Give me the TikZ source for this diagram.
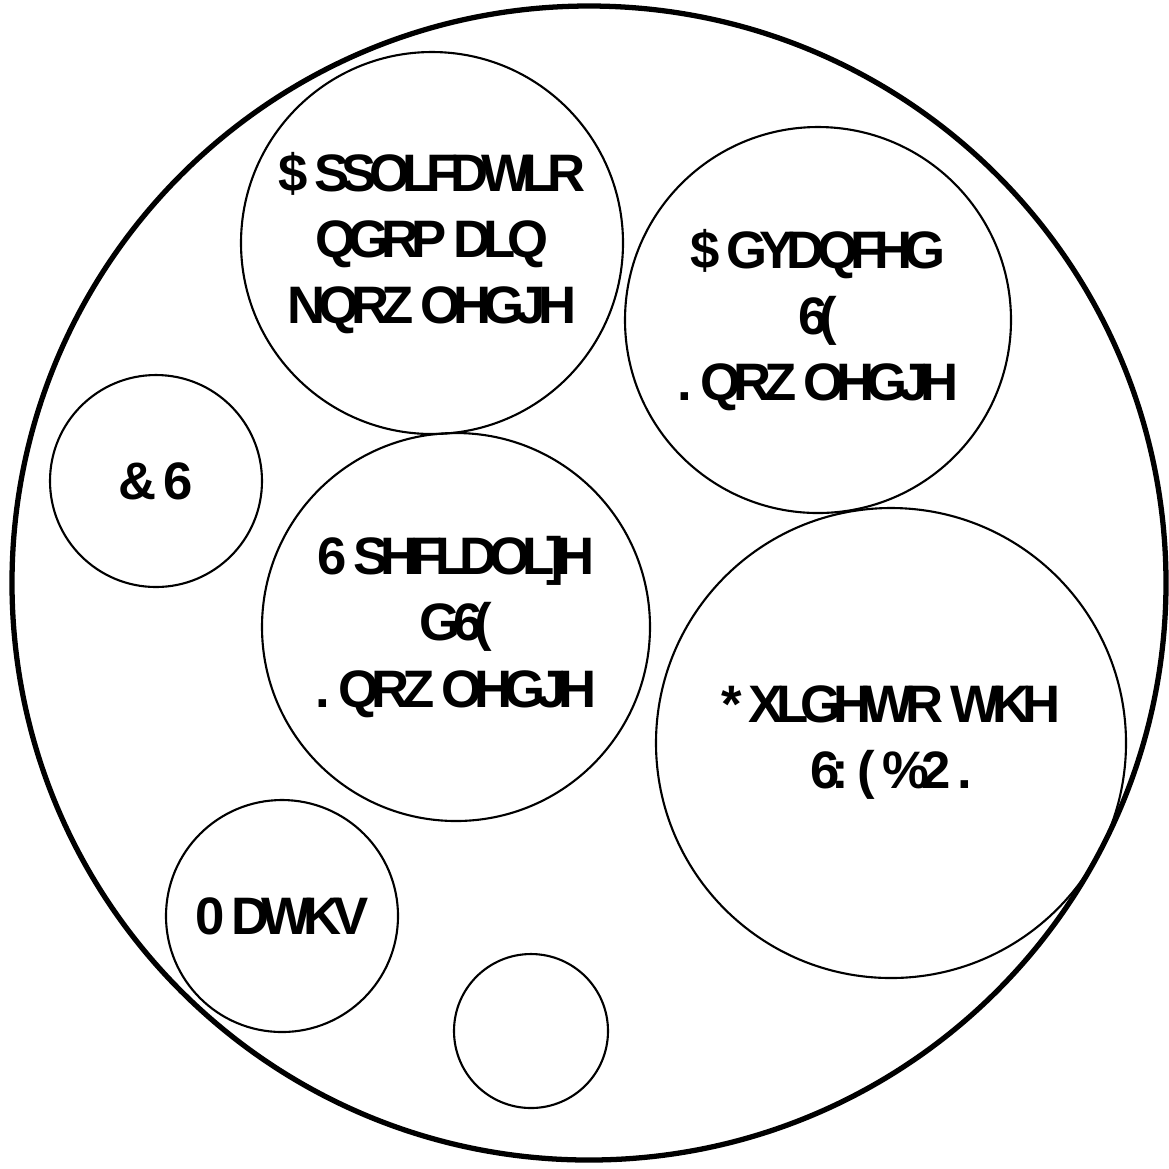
\documentclass[tikz,border=0pt]{standalone}
\usepackage{fontspec}
\newfontfamily\bubblefont{Liberation Sans}[LetterSpace=-15]
\usetikzlibrary{positioning}

\begin{document}
\begin{tikzpicture}[scale=1.0,
    bubble/.style={circle, draw, line width=0.6pt, inner sep=0pt, align=center,
        font=\bubblefont\bfseries\fontsize{15}{18.8}\selectfont},
    outer/.style={circle, draw, line width=1.5pt, inner sep=0pt}]
            \useasboundingbox (0,0) rectangle (11.69,-11.68);
            \node[outer, minimum size=11.54cm] (world) at (5.89,-5.83) {};

            \node[bubble, minimum size=3.82cm] (app) at (4.32,-2.43)
                {\$ SSOLFDWLR\\QGRP DLQ\\NQRZ OHGJH};
            \node[bubble, minimum size=3.86cm] (adv) at (8.18,-3.20)
                {\$ GYDQFHG\\6(\\. QRZ OHGJH};
            \node[bubble, minimum size=2.12cm] (cs) at (1.56,-4.81) {\& 6};
            \node[bubble, minimum size=3.88cm] (spec) at (4.56,-6.27)
                {6 SHFLDOL]H\\G6(\\. QRZ OHGJH};
            \node[bubble, minimum size=4.70cm] (guide) at (8.91,-7.43)
                {* XLGHWR WKH\\6: ( \%2 .};
            \node[bubble, minimum size=2.32cm] (maths) at (2.82,-9.16) {0 DWKV};
            \node[bubble, minimum size=1.54cm] (blank) at (5.31,-10.31) {};
        \end{tikzpicture}
\end{document}
